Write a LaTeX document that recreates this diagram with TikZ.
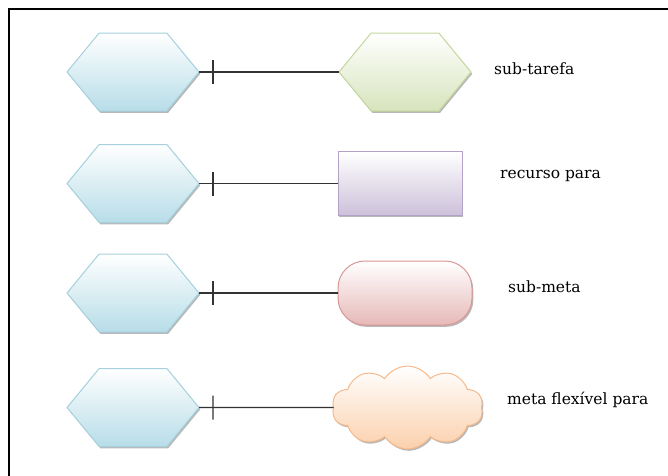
\documentclass[tikz,border=0pt]{standalone}
\usepackage{fontspec}
\setmainfont{DejaVu Serif}
\usetikzlibrary{shapes.symbols,shadows,decorations.markings}

\definecolor{hexfill}{HTML}{B7DDE8}
\definecolor{hexline}{HTML}{A5D0DD}
\definecolor{greenfill}{HTML}{D7E4BD}
\definecolor{greenline}{HTML}{C3D69B}
\definecolor{purplefill}{HTML}{CCC1DA}
\definecolor{purpleline}{HTML}{B3A2C7}
\definecolor{pinkfill}{HTML}{E6B9B8}
\definecolor{pinkline}{HTML}{D99694}
\definecolor{orangefill}{HTML}{FBD0AC}
\definecolor{orangeline}{HTML}{F7B98A}
\definecolor{linkgray}{HTML}{333333}

\tikzset{
  softshadow/.style={drop shadow={shadow xshift=1.3pt, shadow yshift=-1.8pt, fill=black, opacity=0.28}},
  hexa/.style={signal, signal to=east and west, signal pointer angle=101,
    minimum width=132pt, minimum height=78pt, inner sep=0pt, outer sep=0pt,
    line width=1pt, softshadow},
  actor/.style={hexa, draw=hexline, top color=white, bottom color=hexfill},
  subtask/.style={hexa, draw=greenline, top color=white, bottom color=greenfill},
  resource/.style={rectangle, minimum width=124pt, minimum height=64pt, inner sep=0pt,
    outer sep=0pt, line width=1pt, softshadow, draw=purpleline, top color=white, bottom color=purplefill},
  subgoal/.style={rectangle, rounded corners=27pt, minimum width=134pt, minimum height=64pt,
    inner sep=0pt, outer sep=0pt, line width=1pt, softshadow, draw=pinkline, top color=white, bottom color=pinkfill},
  softgoal/.style={cloud, cloud puffs=10, cloud puff arc=115, cloud ignores aspect,
    minimum width=151pt, minimum height=83pt, inner sep=0pt, outer sep=0pt, line width=1pt,
    softshadow, draw=orangeline, top color=white, bottom color=orangefill},
  decomp/.style={draw=linkgray, line width=1.2pt, postaction={decorate},
    decoration={markings, mark=at position 14pt with {\draw[linkgray, line width=1.2pt] (0,-12pt) -- (0,12pt);}}},
  label/.style={anchor=base west, inner sep=0pt, font=\fontsize{15.5}{18}\selectfont}
}

\begin{document}
\begin{tikzpicture}[x=1pt, y=-1pt]
\useasboundingbox (0,0) rectangle (668,475);

% frame
\draw[line width=2pt] (8.5,476) -- (8.5,9) -- (669,9);

% left column: actors
\node[actor] (a1) at (133,72) {};
\node[actor] (a2) at (133,183.5) {};
\node[actor] (a3) at (133,293) {};
\node[actor] (a4) at (133,407.5) {};

% right column: linked elements
\node[subtask] (t1) at (405,72) {};
\node[resource] (r1) at (400,183.5) {};
\node[subgoal] (g1) at (405,293) {};
\node[softgoal] (s1) at (407.5,407.5) {};

% decomposition links
\draw[decomp] (a1.east) -- (t1.west);
\draw[decomp] (a2.east) -- (r1.west);
\draw[decomp] (a3.east) -- (g1.west);
\draw[decomp] (a4.east) -- (s1.west);

% captions
\node[label] (l1) at (494,74) {sub-tarefa};
\node[label] (l2) at (500,178) {recurso para};
\node[label] (l3) at (508,292) {sub-meta};
\node[label] (l4) at (507,404) {meta flexível para};
\end{tikzpicture}
\end{document}
